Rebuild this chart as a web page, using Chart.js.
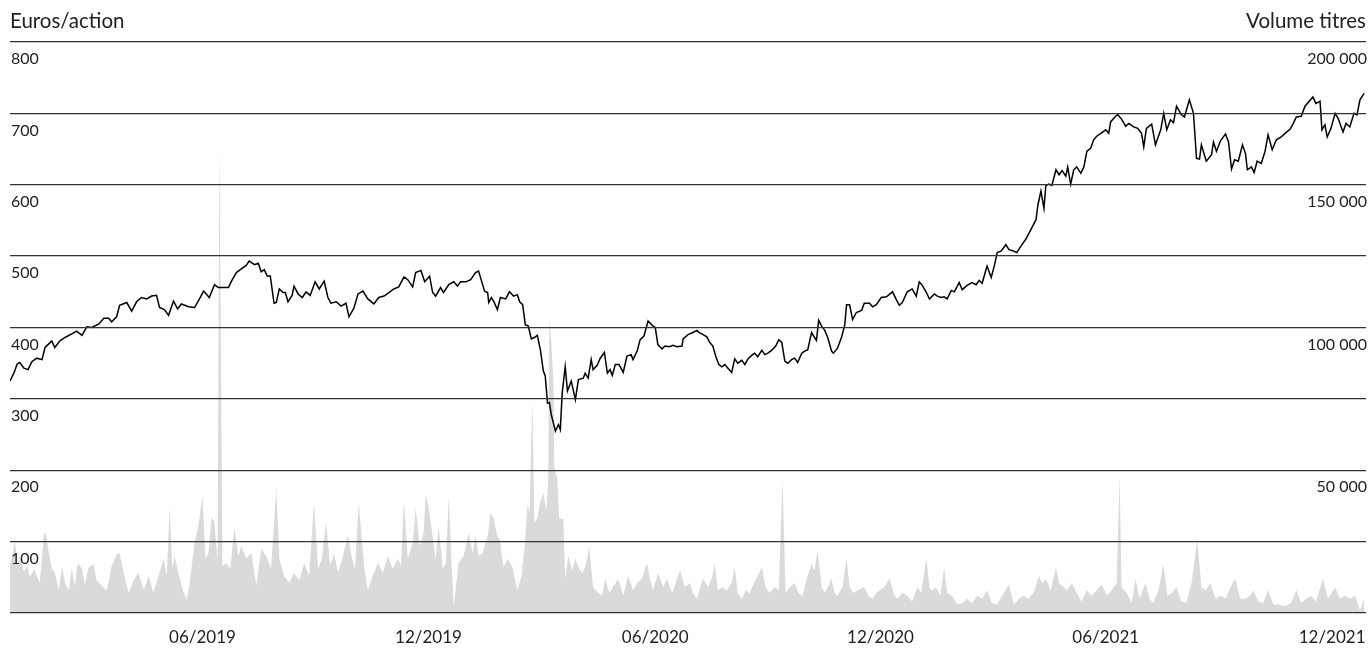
<!DOCTYPE html>
<html lang="fr">
<head>
<meta charset="utf-8">
<title>Cours de l'action et volumes</title>
<script src="https://cdn.jsdelivr.net/npm/chart.js@4.4.1/dist/chart.umd.min.js"></script>
<style>
  html, body { margin: 0; padding: 0; background: #fff; }
  #wrap { width: 1371px; height: 650px; }
</style>
</head>
<body>
<div id="wrap"><canvas id="chart" width="1371" height="650"></canvas></div>
<script>
// x values are months since 01/2019 (0 = start of January 2019, 36 = end of 2021)

const tickMonths = [5.11, 11.11, 17.13, 23.11, 29.09, 35.10];
const tickLabels = ['06/2019', '12/2019', '06/2020', '12/2020', '06/2021', '12/2021'];

const leftTitle = 'Euros/action';
const rightTitle = 'Volume titres';

// share price (euros)
const priceMonths = [
  0.00,0.11,0.19,0.26,0.37,0.48,0.58,0.71,0.85,0.93,
  1.03,1.11,1.19,1.32,1.46,1.64,1.77,1.91,2.04,2.17,
  2.36,2.49,2.62,2.70,2.83,2.91,3.10,3.23,3.36,3.49,
  3.63,3.76,3.89,3.97,4.10,4.21,4.34,4.45,4.55,4.74,
  4.90,5.03,5.14,5.29,5.43,5.53,5.69,5.80,5.88,6.01,
  6.14,6.27,6.35,6.49,6.59,6.67,6.75,6.83,6.91,7.01,
  7.07,7.15,7.25,7.31,7.38,7.49,7.54,7.65,7.76,7.86,
  7.97,8.10,8.21,8.34,8.44,8.52,8.66,8.79,8.92,9.00,
  9.13,9.24,9.37,9.50,9.66,9.79,9.93,10.06,10.19,10.32,
  10.46,10.56,10.69,10.77,10.91,11.01,11.14,11.22,11.30,11.43,
  11.51,11.65,11.78,11.88,11.96,12.10,12.23,12.36,12.44,12.52,
  12.60,12.68,12.71,12.78,12.84,12.94,13.02,13.16,13.26,13.37,
  13.47,13.53,13.61,13.68,13.76,13.84,13.92,14.00,14.08,14.16,
  14.21,14.27,14.32,14.37,14.48,14.56,14.61,14.66,14.74,14.80,
  14.90,15.01,15.09,15.22,15.27,15.35,15.43,15.48,15.59,15.67,
  15.78,15.86,15.93,15.99,16.07,16.17,16.28,16.38,16.49,16.54,
  16.65,16.73,16.83,16.94,17.05,17.13,17.20,17.31,17.39,17.50,
  17.60,17.71,17.84,17.87,18.00,18.13,18.24,18.29,18.40,18.50,
  18.58,18.66,18.74,18.82,18.90,18.98,19.06,19.16,19.24,19.32,
  19.43,19.51,19.59,19.69,19.77,19.85,19.96,20.04,20.12,20.22,
  20.33,20.41,20.49,20.57,20.65,20.75,20.83,20.91,21.02,21.10,
  21.18,21.28,21.36,21.41,21.47,21.55,21.63,21.71,21.81,21.86,
  21.97,22.08,22.16,22.21,22.29,22.37,22.47,22.61,22.68,22.82,
  22.90,23.00,23.13,23.27,23.43,23.53,23.61,23.69,23.82,23.95,
  24.06,24.14,24.22,24.33,24.41,24.54,24.62,24.72,24.80,24.88,
  24.99,25.07,25.20,25.28,25.41,25.54,25.65,25.73,25.81,25.89,
  25.94,26.05,26.13,26.21,26.31,26.44,26.52,26.60,26.73,26.84,
  26.97,27.05,27.13,27.24,27.29,27.37,27.45,27.50,27.58,27.66,
  27.77,27.85,27.93,28.03,28.08,28.16,28.24,28.32,28.43,28.51,
  28.59,28.69,28.77,28.85,28.96,29.09,29.17,29.22,29.35,29.41,
  29.51,29.62,29.70,29.83,29.94,30.04,30.10,30.17,30.31,30.41,
  30.55,30.63,30.71,30.81,30.89,30.97,31.10,31.18,31.31,31.42,
  31.50,31.58,31.63,31.76,31.90,31.95,32.03,32.14,32.27,32.35,
  32.43,32.51,32.61,32.72,32.80,32.85,32.96,33.03,33.11,33.22,
  33.32,33.40,33.51,33.62,33.75,33.85,33.99,34.07,34.15,34.28,
  34.38,34.46,34.59,34.67,34.78,34.83,34.91,34.97,35.07,35.18,
  35.26,35.39,35.47,35.57,35.68,35.76,35.84,35.95
];
const priceEur = [
  325,337,349,351,343,341,352,357,355,372,
  377,381,372,381,386,391,395,389,401,400,
  405,413,413,408,415,431,435,423,436,442,
  440,444,445,428,425,417,437,426,433,429,
  428,440,451,442,460,456,456,456,465,477,
  482,487,493,488,490,478,481,472,472,434,
  435,454,449,449,436,445,458,447,442,450,
  445,464,454,465,442,434,436,430,434,415,
  427,447,451,440,433,442,444,449,454,457,
  471,467,457,477,480,464,472,449,444,456,
  449,460,464,458,464,464,467,477,479,465,
  451,449,435,442,437,425,442,440,450,444,
  446,436,432,404,402,384,386,389,369,339,
  332,294,295,278,255,264,257,308,345,311,
  325,299,327,329,336,329,355,341,347,357,
  365,336,341,333,348,348,337,360,362,355,
  367,383,388,409,403,400,376,370,374,373,
  375,373,374,384,390,393,396,393,390,387,
  379,374,359,348,345,348,343,337,356,350,
  354,348,356,361,364,359,368,362,364,368,
  374,383,379,353,350,355,357,351,364,367,
  369,393,386,382,410,402,396,386,367,364,
  371,387,403,432,432,411,421,424,434,434,
  429,432,442,443,450,439,431,435,450,454,
  444,464,459,449,440,447,444,442,443,440,
  452,450,463,453,459,463,460,466,462,477,
  486,470,486,505,507,516,509,508,505,514,
  524,532,540,551,572,591,567,599,601,599,
  621,614,620,612,625,601,621,625,616,625,
  647,651,663,668,672,677,672,688,696,698,
  692,682,686,681,679,672,653,679,685,656,
  677,700,677,691,687,710,698,695,719,700,
  637,636,656,633,642,660,647,662,671,660,
  622,635,633,656,644,621,625,617,633,630,
  647,670,649,663,667,672,678,686,695,696,
  710,715,723,714,717,677,684,667,679,700,
  693,674,686,681,700,698,719,728
];

// traded volume (thousands of shares)
const volumeMonths = [
  0.00,0.05,0.13,0.21,0.26,0.37,0.45,0.53,0.64,0.71,
  0.79,0.90,0.95,1.03,1.11,1.19,1.30,1.38,1.46,1.56,
  1.64,1.72,1.80,1.91,1.99,2.09,2.22,2.30,2.44,2.57,
  2.70,2.83,2.91,3.02,3.15,3.28,3.41,3.55,3.68,3.81,
  3.94,4.08,4.16,4.24,4.31,4.37,4.47,4.61,4.69,4.76,
  4.90,5.00,5.11,5.19,5.27,5.35,5.43,5.51,5.56,5.64,
  5.74,5.85,5.96,6.06,6.14,6.27,6.41,6.54,6.67,6.80,
  6.93,7.07,7.15,7.28,7.41,7.54,7.68,7.81,7.94,8.07,
  8.18,8.28,8.39,8.50,8.60,8.71,8.84,8.97,9.08,9.16,
  9.26,9.40,9.50,9.63,9.77,9.90,10.03,10.16,10.30,10.38,
  10.46,10.56,10.69,10.77,10.88,10.98,11.04,11.12,11.22,11.30,
  11.38,11.49,11.57,11.65,11.73,11.78,11.91,12.04,12.18,12.28,
  12.36,12.44,12.55,12.68,12.76,12.84,12.94,13.00,13.10,13.21,
  13.34,13.47,13.58,13.66,13.74,13.79,13.87,13.92,14.00,14.08,
  14.16,14.24,14.29,14.32,14.37,14.43,14.45,14.53,14.58,14.69,
  14.74,14.82,14.93,15.01,15.09,15.19,15.27,15.38,15.48,15.62,
  15.72,15.80,15.91,16.01,16.15,16.28,16.41,16.54,16.65,16.78,
  16.91,16.99,17.07,17.21,17.34,17.44,17.58,17.71,17.79,17.92,
  18.05,18.13,18.24,18.32,18.40,18.53,18.63,18.71,18.79,18.93,
  19.03,19.16,19.24,19.32,19.43,19.53,19.64,19.75,19.85,19.96,
  20.06,20.17,20.30,20.41,20.51,20.59,20.70,20.83,20.94,21.04,
  21.15,21.28,21.36,21.44,21.55,21.63,21.71,21.81,21.89,21.97,
  22.10,22.21,22.29,22.39,22.50,22.68,22.79,22.90,23.00,23.08,
  23.21,23.35,23.48,23.56,23.69,23.82,23.95,24.09,24.19,24.33,
  24.41,24.48,24.59,24.70,24.80,24.88,25.01,25.15,25.28,25.41,
  25.54,25.68,25.81,25.94,26.07,26.20,26.34,26.52,26.65,26.79,
  26.92,27.05,27.18,27.32,27.40,27.50,27.63,27.77,27.85,27.98,
  28.06,28.19,28.32,28.45,28.59,28.72,28.85,28.98,29.12,29.25,
  29.38,29.46,29.51,29.65,29.78,29.88,29.99,30.15,30.25,30.36,
  30.49,30.62,30.73,30.84,30.97,31.10,31.23,31.37,31.52,31.63,
  31.74,31.87,32.00,32.14,32.27,32.40,32.53,32.66,32.80,32.93,
  33.01,33.14,33.27,33.40,33.54,33.67,33.85,34.01,34.15,34.28,
  34.41,34.54,34.67,34.86,34.99,35.18,35.31,35.44,35.57,35.71,
  35.84,35.95
];
const volumeK = [
  17.5,19,25,16.5,20,14.5,16.5,12.5,15.5,13,
  10.5,27.5,28,21,15.5,14,8,16.5,10.5,8,
  15.5,9.5,17.5,15.5,10,16,17,11.5,9.5,8,
  16.5,20.5,21,14,7,11.5,14,8,13,7,
  13,19,13,37,15.5,20,14,7,4.5,9.5,
  24.5,30.5,41,19,21,33.5,32,17.5,165,16.5,
  17.5,15.5,30,20,23.5,19,21,9.5,22.5,20,
  15.5,43.5,19,13,10.5,14,11.5,17.5,13,38.5,
  15.5,19,32,16.5,21,14,20,27.5,19,15.5,
  38.5,16.5,8,13,17.5,14,20,15.5,19,16.5,
  39.5,19,24.5,36.5,23.5,28,41.5,36.5,27,19,
  30.5,15.5,17.5,41,15.5,2.5,17.5,20,28,21,
  27,20,21,27,35,33,27,26,16,19,
  16,8,13,23,38,35,74,32,33,39,
  42,36,47,103,95,80,51,47,33,33,
  12,20,15,19,16,14,16,23,9,7,
  6,12,7,9,12,6,13,8,10.5,12,
  17.5,12,8,14,9,12,7,12,15,9,
  10.5,7,5,9,12,9,12,17.5,8,9,
  8,10.5,16,7,5,8,7,10.5,13,16,
  9,7,9,8,47,7,9,10.5,7,6,
  12,17,15,22,9,7,9,12,7,6,
  9,19,9,7,8,9,6,5,7,8,
  9,12,6,5,7,6,4,9,7,19,
  9,8,9,6,16,7,6,3,3.5,5,
  3.5,6,5,8,3.5,3,6,10,3,5,
  6,5,7.5,13,10.5,12,8,16,10.5,9,
  8,10.5,7,4,8,6,8,10,6,8,
  10.5,48.5,9,7,3.5,12,5,10.5,5,3.5,
  8,17,6,7,9,4,3.5,10.5,25.7,9,
  8,10.5,5,6,5,9,12,5,5,6,
  8,4,3.5,8,3,3,2.3,3.5,8,3.5,
  5,6,4,12,5,9,5,6,5,6,
  1,5
];

const FONT = 'Lato, "Open Sans", sans-serif';
const TEXT = '#222';

function spaced(v) {
  return String(v).replace(/\B(?=(\d{3})+(?!\d))/g, ' ');
}

// the two unit captions above the top grid line
const headerTitles = {
  id: 'headerTitles',
  afterDraw(chart) {
    const { ctx, chartArea } = chart;
    ctx.save();
    ctx.font = '20.5px ' + FONT;
    ctx.fillStyle = TEXT;
    ctx.textBaseline = 'alphabetic';
    ctx.textAlign = 'left';
    ctx.fillText(leftTitle, chartArea.left, 28);
    ctx.textAlign = 'right';
    ctx.fillText(rightTitle, chartArea.right, 28);
    ctx.restore();
  }
};

new Chart(document.getElementById('chart'), {
  type: 'line',
  data: {
    datasets: [
      {
        label: 'Cours',
        data: priceMonths.map((m, i) => ({ x: m, y: priceEur[i] })),
        yAxisID: 'y',
        borderColor: '#000',
        borderWidth: 1.5,
        pointRadius: 0,
        tension: 0,
        fill: false,
        order: 0
      },
      {
        label: 'Volume',
        data: volumeMonths.map((m, i) => ({ x: m, y: volumeK[i] * 1000 })),
        yAxisID: 'yv',
        borderColor: 'rgba(0,0,0,0)',
        borderWidth: 0,
        backgroundColor: '#dadada',
        pointRadius: 0,
        tension: 0,
        fill: 'origin',
        order: 1
      }
    ]
  },
  options: {
    responsive: false,
    animation: false,
    devicePixelRatio: 1,
    layout: { padding: { left: 8, right: 3, top: 42, bottom: 0 } },
    plugins: {
      legend: { display: false },
      tooltip: { enabled: false }
    },
    scales: {
      x: {
        type: 'linear',
        min: 0,
        max: 36,
        grid: { display: false, drawTicks: false },
        border: { display: false },
        afterBuildTicks: (scale) => {
          scale.ticks = tickMonths.map(v => ({ value: v }));
        },
        afterFit: (scale) => {
          scale.height = 37;
          scale.paddingLeft = 0;
          scale.paddingRight = 0;
        },
        ticks: {
          autoSkip: false,
          maxRotation: 0,
          padding: 14,
          color: TEXT,
          font: { family: FONT, size: 17 },
          callback: (v, i) => tickLabels[i]
        }
      },
      y: {
        position: 'left',
        min: 0,
        max: 800,
        grid: { color: '#333', lineWidth: 1.3, drawTicks: false, z: 1 },
        border: { display: false },
        ticks: {
          stepSize: 100,
          mirror: true,
          padding: 1,
          labelOffset: 17,
          z: 1,
          color: TEXT,
          font: { family: FONT, size: 16 },
          callback: v => (v === 0 ? '' : String(v))
        }
      },
      yv: {
        position: 'right',
        min: 0,
        max: 200000,
        grid: { display: false, drawTicks: false },
        border: { display: false },
        ticks: {
          stepSize: 50000,
          mirror: true,
          padding: 1,
          labelOffset: 17,
          z: 1,
          color: TEXT,
          font: { family: FONT, size: 16 },
          callback: v => (v === 0 ? '' : spaced(v))
        }
      }
    }
  },
  plugins: [headerTitles]
});
</script>
</body>
</html>
